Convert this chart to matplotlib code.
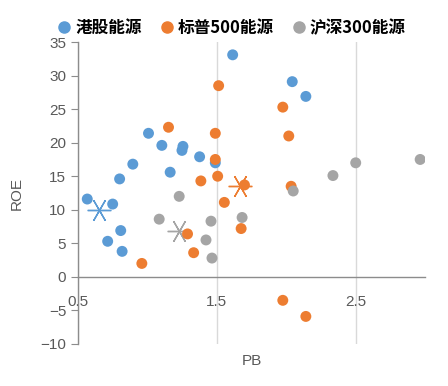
import numpy as np
import matplotlib.pyplot as plt
from matplotlib.lines import Line2D

plt.rcParams['font.family'] = ['Liberation Sans', 'DejaVu Sans']

## Data (PB, ROE)
hk_pb = [0.567, 0.75, 0.80, 0.895, 1.008, 1.104, 1.256, 1.249, 1.164, 1.376, 1.489,
         0.714, 0.808, 0.818, 1.614, 2.043, 2.141]
hk_roe = [11.6, 10.85, 14.6, 16.8, 21.4, 19.6, 19.45, 18.85, 15.6, 17.9, 17.0,
          5.3, 6.9, 3.8, 33.1, 29.1, 26.9]

sp_pb = [1.513, 1.975, 1.152, 1.489, 2.018, 1.489, 1.506, 1.385, 1.699, 2.035,
         1.554, 1.675, 1.289, 1.333, 0.96, 1.975, 2.141]
sp_roe = [28.5, 25.3, 22.3, 21.4, 21.0, 17.5, 15.0, 14.3, 13.7, 13.5,
          11.1, 7.2, 6.4, 3.6, 2.0, -3.5, -5.9]

hs_pb = [1.229, 1.085, 1.458, 1.422, 1.465, 1.682, 2.05, 2.336, 2.50, 2.964]
hs_roe = [12.0, 8.6, 8.3, 5.5, 2.8, 8.85, 12.8, 15.1, 17.0, 17.5]

# averages (star markers)
mean_pb = [0.654, 1.665, 1.224]
mean_roe = [9.9, 13.6, 6.9]

names = ['港股能源', '标普500能源', '沪深300能源']
colors = ['#5B9BD5', '#ED7D31', '#A5A5A5']

fig = plt.figure(figsize=(4.48, 3.86), dpi=100)
ax = fig.add_axes([0.174, 0.109, 0.775, 0.782])

series = [(hk_pb, hk_roe), (sp_pb, sp_roe), (hs_pb, hs_roe)]
for i, (x, y) in enumerate(series):
    ax.scatter(x, y, s=62, color=colors[i], edgecolors='none', zorder=3)
    # star for the average
    ax.plot(mean_pb[i], mean_roe[i], marker=(6, 2, 90), ms=17, mew=1.0,
            color=colors[i], linestyle='none', zorder=2.5)

ax.set_xlim(0.5, 3.0)
ax.set_ylim(-10, 35)
ax.set_xticks([0.5, 1.5, 2.5])
ax.set_xticklabels(['0.5', '1.5', '2.5'])
ax.set_yticks(np.arange(-10, 36, 5))

ax.spines['top'].set_visible(False)
ax.spines['right'].set_visible(False)
ax.spines['bottom'].set_position(('data', 0))
for s in ['left', 'bottom']:
    ax.spines[s].set_color('#8C8C8C')
    ax.spines[s].set_linewidth(1.0)

ax.grid(axis='x', color='#D9D9D9', lw=1.0)
ax.set_axisbelow(True)
ax.tick_params(axis='x', length=0, pad=13, labelsize=11, labelcolor='#595959')
ax.tick_params(axis='y', length=5, color='#8C8C8C', labelsize=11, labelcolor='#595959')

ax.set_xlabel('PB', fontsize=11, color='#595959')
ax.xaxis.set_label_coords(0.5, -0.035)
ax.set_ylabel('ROE', fontsize=11, color='#595959')
ax.yaxis.set_label_coords(-0.155, 0.5)

handles = [Line2D([], [], marker='o', linestyle='none', ms=8, color=c) for c in colors]
fig.legend(handles, names, loc='center', bbox_to_anchor=(0.515, 0.927), ncol=3,
           frameon=False, handletextpad=0.15, columnspacing=1.0, handlelength=1.0,
           prop={'family': ['Noto Sans CJK SC', 'DejaVu Sans'], 'size': 12, 'weight': 'bold'})

fig.savefig('out.png', dpi=100)
